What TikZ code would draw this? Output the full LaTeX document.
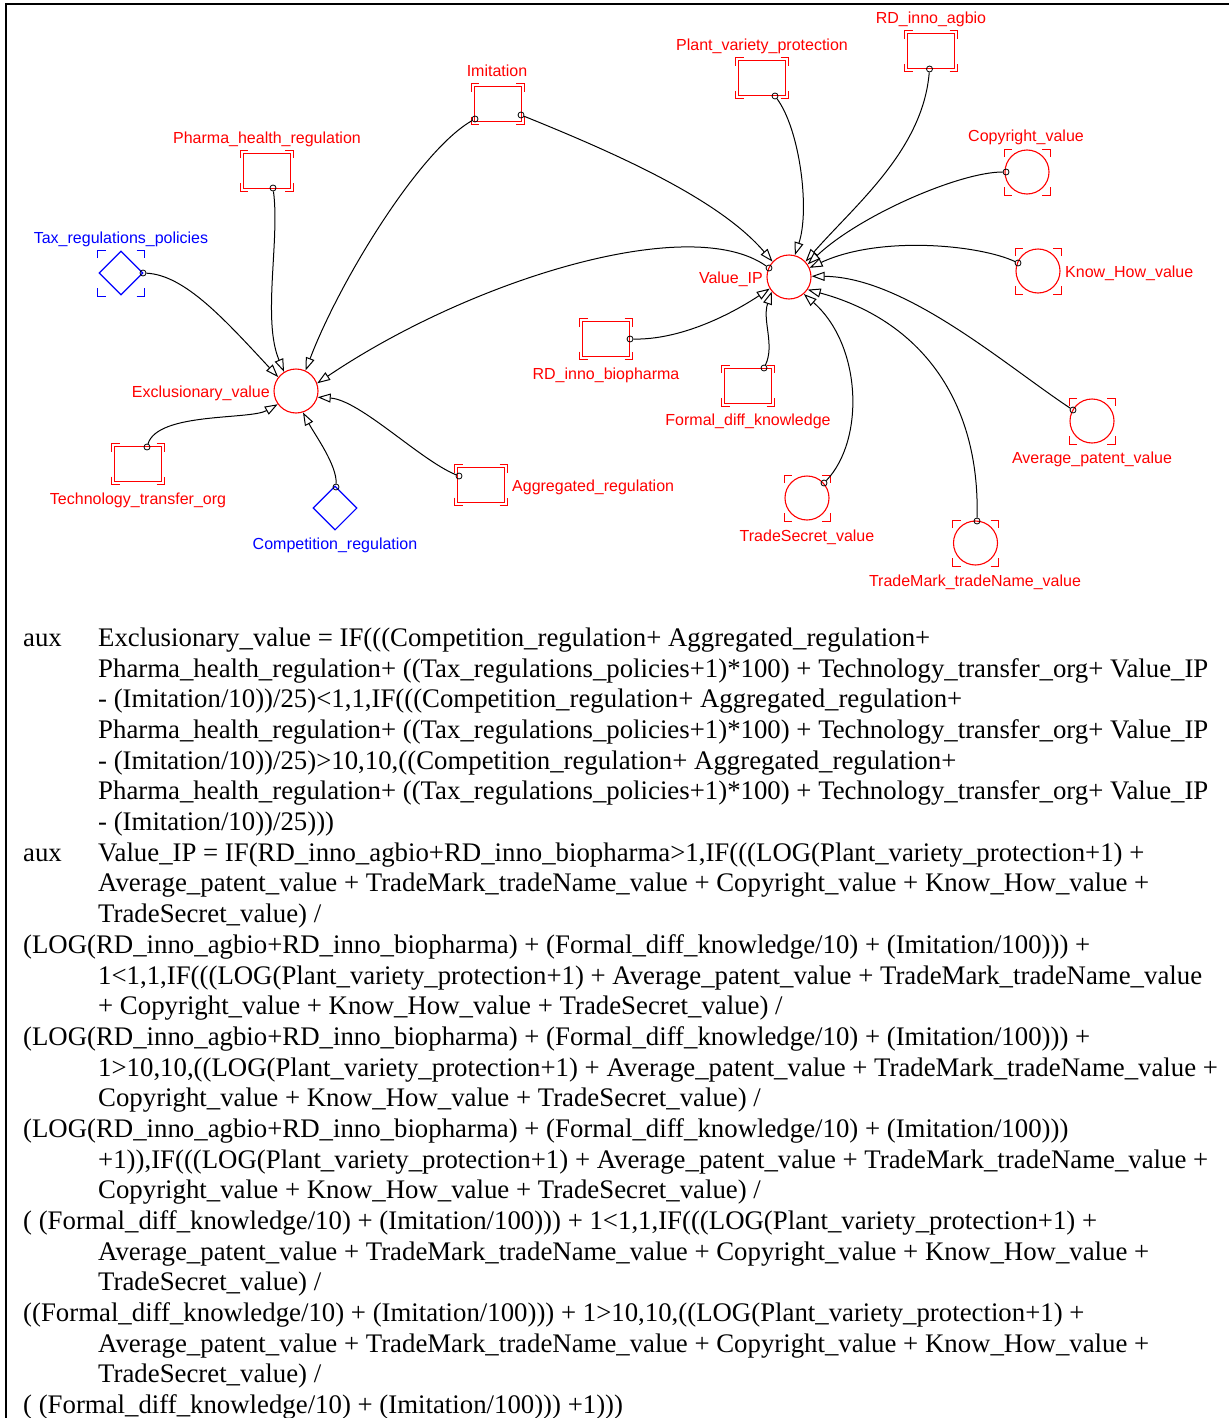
\documentclass[tikz,border=0pt]{standalone}
\usepackage{fontspec}
\setmainfont{Liberation Serif}
\newfontfamily\labfont{Liberation Sans}
\usetikzlibrary{arrows.meta,shapes.geometric}
\newcommand\cornermarks[5]{%
 \draw[#1, line width=1pt] ({#2-#4},{#3-#5+8}) -- ({#2-#4},{#3-#5}) -- ({#2-#4+8},{#3-#5});
 \draw[#1, line width=1pt] ({#2+#4-8},{#3-#5}) -- ({#2+#4},{#3-#5}) -- ({#2+#4},{#3-#5+8});
 \draw[#1, line width=1pt] ({#2-#4},{#3+#5-8}) -- ({#2-#4},{#3+#5}) -- ({#2-#4+8},{#3+#5});
 \draw[#1, line width=1pt] ({#2+#4-8},{#3+#5}) -- ({#2+#4},{#3+#5}) -- ({#2+#4},{#3+#5-8});
}
\tikzset{
 lab/.style={font=\labfont\fontsize{16}{18}\selectfont, inner sep=0, anchor=base},
 redlab/.style={lab, text=red},
 bluelab/.style={lab, text=blue},
 cst/.style={draw=red, line width=1pt, rectangle, minimum width=47, minimum height=35, inner sep=0},
 auxv/.style={draw=red, line width=1.1pt, circle, minimum size=44, inner sep=0},
 dia/.style={draw=blue, line width=1.1pt, diamond, aspect=1, minimum width=44, minimum height=44, inner sep=0},
 lnk/.style={draw=black, line width=1pt, -{Triangle[open, length=13pt, width=9pt, fill=white]}},
 prt/.style={draw=black, line width=0.8pt, circle, inner sep=0, minimum size=6},
 eq/.style={font=\fontsize{26.8}{30.68}\selectfont, inner sep=0, anchor=base west},
}
\begin{document}
\begin{tikzpicture}[x=1pt,y=-1pt]
\useasboundingbox (0,0) rectangle (1229,1418);
% frame
\draw[line width=2pt] (6,1418) -- (6,4) -- (1229,4);

% constants (rectangles)
\node[cst] (phr) at (266.5,170.5) {};
\node[cst] (imi) at (497.5,104.5) {};
\node[cst] (pvp) at (762,78.5) {};
\node[cst] (agb) at (931,51.5) {};
\node[cst] (tto) at (138,464) {};
\node[cst] (agr) at (481,485) {};
\node[cst] (bio) at (606,339) {};
\node[cst] (fdk) at (748,385.5) {};
\cornermarks{red}{266.5}{170.5}{26.5}{20.5}
\cornermarks{red}{497.5}{104.5}{26.5}{20.5}
\cornermarks{red}{762}{78.5}{26.5}{20.5}
\cornermarks{red}{931}{51.5}{26.5}{20.5}
\cornermarks{red}{138}{464}{26.5}{20.5}
\cornermarks{red}{481}{485}{26.5}{20.5}
\cornermarks{red}{606}{339}{26.5}{20.5}
\cornermarks{red}{748}{385.5}{26.5}{20.5}

% auxiliaries (circles)
\node[auxv] (vip) at (789,277) {};
\node[auxv] (exv) at (296,391) {};
\node[auxv] (cpy) at (1027,172) {};
\node[auxv] (kh) at (1038,271) {};
\node[auxv] (apv) at (1092,421) {};
\node[auxv] (tsv) at (807,498) {};
\node[auxv] (tmk) at (975.5,543) {};
\cornermarks{red}{1027}{172}{23}{23}
\cornermarks{red}{1038}{271}{23}{23}
\cornermarks{red}{1092}{421}{23}{23}
\cornermarks{red}{807}{498}{23}{23}
\cornermarks{red}{975.5}{543}{23}{23}

% diamonds
\node[dia] (tax) at (121,273) {};
\node[dia] (cmp) at (335,508) {};
\cornermarks{blue}{121}{273}{23.5}{23}

% labels
\node[redlab] (l_phr) at (267,143) {Pharma\_health\_regulation};
\node[redlab] (l_imi) at (497,77) {Imitation};
\node[redlab] (l_pvp) at (762,51) {Plant\_variety\_protection};
\node[redlab] (l_agb) at (931,24) {RD\_inno\_agbio};
\node[redlab] (l_cpy) at (1026,142) {Copyright\_value};
\node[redlab, anchor=base west] (l_kh) at (1065,277) {Know\_How\_value};
\node[redlab, anchor=base east] (l_vip) at (763,283) {Value\_IP};
\node[redlab, anchor=base east] (l_exv) at (270,397) {Exclusionary\_value};
\node[bluelab] (l_tax) at (121,243) {Tax\_regulations\_policies};
\node[redlab] (l_tto) at (138,504) {Technology\_transfer\_org};
\node[bluelab] (l_cmp) at (335,549) {Competition\_regulation};
\node[redlab, anchor=base west] (l_agr) at (512,491) {Aggregated\_regulation};
\node[redlab] (l_bio) at (606,379) {RD\_inno\_biopharma};
\node[redlab] (l_fdk) at (748,425) {Formal\_diff\_knowledge};
\node[redlab] (l_tsv) at (807,541) {TradeSecret\_value};
\node[redlab] (l_apv) at (1092,463) {Average\_patent\_value};
\node[redlab] (l_tmk) at (975,586) {TradeMark\_tradeName\_value};

% connector ports
\node[prt] (d_tax) at (143,273) {};
\node[prt] (d_phr) at (273,188) {};
\node[prt] (d_imi1) at (475,119) {};
\node[prt] (d_imi2) at (521,115) {};
\node[prt] (d_vip) at (769,268) {};
\node[prt] (d_agr) at (459,476) {};
\node[prt] (d_cmp) at (336,487) {};
\node[prt] (d_tto) at (147,447) {};
\node[prt] (d_pvp) at (775,96) {};
\node[prt] (d_agb) at (929.5,69) {};
\node[prt] (d_cpy) at (1006,172) {};
\node[prt] (d_kh) at (1018,263) {};
\node[prt] (d_apv) at (1073,410) {};
\node[prt] (d_tmk) at (977,521) {};
\node[prt] (d_tsv) at (824,483) {};
\node[prt] (d_fdk) at (764,368) {};
\node[prt] (d_bio) at (630,339) {};

% links into Exclusionary_value
\draw[lnk] (d_tax) .. controls (185,275) and (225,320) .. (exv.142);
\draw[lnk] (d_phr) .. controls (280,240) and (262,320) .. (exv.122);
\draw[lnk] (d_imi1) .. controls (420,150) and (340,280) .. (exv.65);
\draw[lnk] (d_vip) .. controls (690,212) and (470,280) .. (exv.20);
\draw[lnk] (d_agr) .. controls (420,460) and (360,400) .. (exv.-16);
\draw[lnk] (d_cmp) .. controls (337,465) and (315,435) .. (exv.-72);
\draw[lnk] (d_tto) .. controls (158,412) and (250,420) .. (exv.-144);

% links into Value_IP
\draw[lnk] (d_imi2) .. controls (620,155) and (720,200) .. (vip.137);
\draw[lnk] (d_pvp) .. controls (800,130) and (810,210) .. (vip.75);
\draw[lnk] (d_agb) .. controls (923,150) and (855,205) .. (vip.43);
\draw[lnk] (d_cpy) .. controls (960,172) and (860,215) .. (vip.34);
\draw[lnk] (d_kh) .. controls (980,245) and (880,235) .. (vip.24);
\draw[lnk] (d_apv) .. controls (1005,365) and (905,277) .. (vip.2);
\draw[lnk] (d_tmk) .. controls (980,400) and (920,320) .. (vip.-34);
\draw[lnk] (d_tsv) .. controls (865,440) and (862,345) .. (vip.-49);
\draw[lnk] (d_fdk) .. controls (775,345) and (762,320) .. (vip.-140);
\draw[lnk] (d_bio) .. controls (680,340) and (730,315) .. (vip.-149);

% equations
\node[eq] (e0a) at (23,646.5) {aux};
\node[eq] (e0) at (98,646.5) {Exclusionary\_value = IF(((Competition\_regulation+ Aggregated\_regulation+};
\node[eq] (e1) at (98,677.2) {Pharma\_health\_regulation+ ((Tax\_regulations\_policies+1)*100) + Technology\_transfer\_org+ Value\_IP};
\node[eq] (e2) at (98,707.9) {- (Imitation/10))/25)<1,1,IF(((Competition\_regulation+ Aggregated\_regulation+};
\node[eq] (e3) at (98,738.5) {Pharma\_health\_regulation+ ((Tax\_regulations\_policies+1)*100) + Technology\_transfer\_org+ Value\_IP};
\node[eq] (e4) at (98,769.2) {- (Imitation/10))/25)>10,10,((Competition\_regulation+ Aggregated\_regulation+};
\node[eq] (e5) at (98,799.9) {Pharma\_health\_regulation+ ((Tax\_regulations\_policies+1)*100) + Technology\_transfer\_org+ Value\_IP};
\node[eq] (e6) at (98,830.6) {- (Imitation/10))/25)))};
\node[eq] (e7a) at (23,861.3) {aux};
\node[eq] (e7) at (98,861.3) {Value\_IP = IF(RD\_inno\_agbio+RD\_inno\_biopharma>1,IF(((LOG(Plant\_variety\_protection+1) +};
\node[eq] (e8) at (98,891.9) {Average\_patent\_value + TradeMark\_tradeName\_value + Copyright\_value + Know\_How\_value +};
\node[eq] (e9) at (98,922.6) {TradeSecret\_value) /};
\node[eq] (e10) at (23,953.3) {(LOG(RD\_inno\_agbio+RD\_inno\_biopharma) + (Formal\_diff\_knowledge/10) + (Imitation/100))) +};
\node[eq] (e11) at (98,984.0) {1<1,1,IF(((LOG(Plant\_variety\_protection+1) + Average\_patent\_value + TradeMark\_tradeName\_value};
\node[eq] (e12) at (98,1014.7) {+ Copyright\_value + Know\_How\_value + TradeSecret\_value) /};
\node[eq] (e13) at (23,1045.3) {(LOG(RD\_inno\_agbio+RD\_inno\_biopharma) + (Formal\_diff\_knowledge/10) + (Imitation/100))) +};
\node[eq] (e14) at (98,1076.0) {1>10,10,((LOG(Plant\_variety\_protection+1) + Average\_patent\_value + TradeMark\_tradeName\_value +};
\node[eq] (e15) at (98,1106.7) {Copyright\_value + Know\_How\_value + TradeSecret\_value) /};
\node[eq] (e16) at (23,1137.4) {(LOG(RD\_inno\_agbio+RD\_inno\_biopharma) + (Formal\_diff\_knowledge/10) + (Imitation/100)))};
\node[eq] (e17) at (98,1168.1) {+1)),IF(((LOG(Plant\_variety\_protection+1) + Average\_patent\_value + TradeMark\_tradeName\_value +};
\node[eq] (e18) at (98,1198.7) {Copyright\_value + Know\_How\_value + TradeSecret\_value) /};
\node[eq] (e19) at (23,1229.4) {( (Formal\_diff\_knowledge/10) + (Imitation/100))) + 1<1,1,IF(((LOG(Plant\_variety\_protection+1) +};
\node[eq] (e20) at (98,1260.1) {Average\_patent\_value + TradeMark\_tradeName\_value + Copyright\_value + Know\_How\_value +};
\node[eq] (e21) at (98,1290.8) {TradeSecret\_value) /};
\node[eq] (e22) at (23,1321.5) {((Formal\_diff\_knowledge/10) + (Imitation/100))) + 1>10,10,((LOG(Plant\_variety\_protection+1) +};
\node[eq] (e23) at (98,1352.1) {Average\_patent\_value + TradeMark\_tradeName\_value + Copyright\_value + Know\_How\_value +};
\node[eq] (e24) at (98,1382.8) {TradeSecret\_value) /};
\node[eq] (e25) at (23,1413.5) {( (Formal\_diff\_knowledge/10) + (Imitation/100))) +1)))};
\end{tikzpicture}
\end{document}
